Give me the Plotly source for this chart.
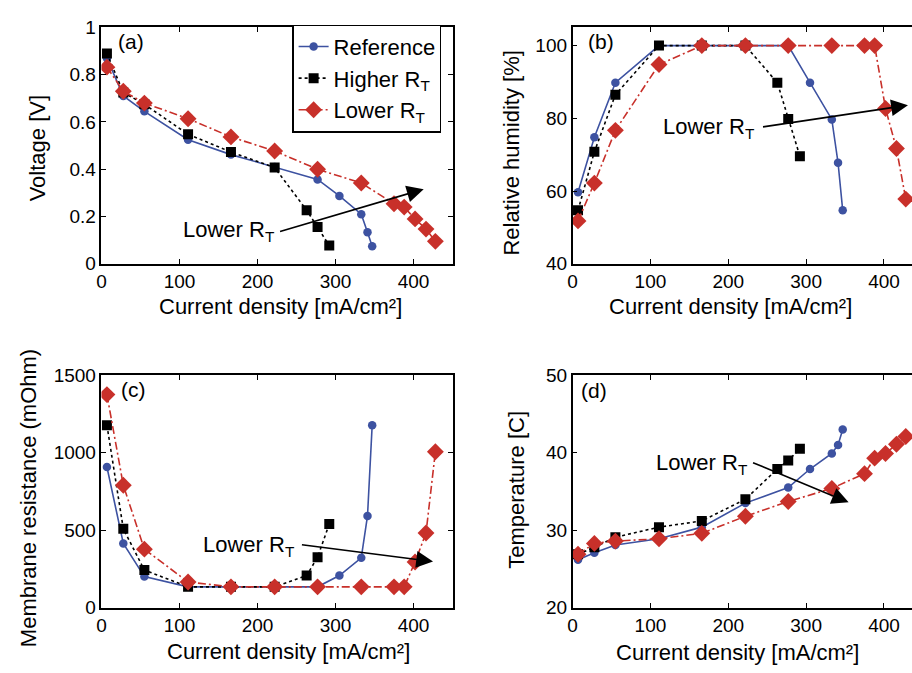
import plotly.graph_objects as go

# Current density [mA/cm²] of each operating point
j_ref = [7, 28, 55, 111, 166, 222, 277, 305, 333, 341, 347]
j_high = [7, 28, 55, 111, 166, 222, 263, 277, 292]
j_low = [7, 28, 55, 111, 166, 222, 277, 333, 375, 388, 402, 416, 428]

# (a) cell voltage [V]
v_ref = [0.87, 0.71, 0.645, 0.525, 0.462, 0.41, 0.357, 0.287, 0.21, 0.134, 0.074]
v_high = [0.89, 0.725, 0.675, 0.548, 0.473, 0.407, 0.227, 0.156, 0.077]
v_low = [0.832, 0.73, 0.68, 0.614, 0.537, 0.477, 0.40, 0.342, 0.254, 0.24, 0.19, 0.147, 0.095]

# (b) relative humidity [%]
rh_ref = [59.7, 74.8, 89.8, 100, 100, 100, 100, 89.8, 79.7, 67.8, 54.7]
rh_high = [54.7, 70.8, 86.5, 100, 100, 100, 89.8, 79.8, 69.6]
rh_low = [51.8, 62.2, 76.7, 94.8, 100, 100, 100, 100, 100, 100, 82.7, 71.7, 57.8]

# (c) membrane resistance [mOhm]
r_ref = [908, 415, 201, 135, 135, 135, 135, 208, 322, 592, 1178]
r_high = [1178, 509, 243, 135, 135, 135, 208, 326, 540]
r_low = [1375, 790, 378, 166, 135, 135, 135, 135, 135, 135, 295, 482, 1006]

# (d) temperature [C]
t_ref = [26.2, 27.1, 28.1, 28.9, 30.4, 33.5, 35.5, 37.9, 39.9, 41.0, 43.0]
t_high = [26.9, 27.8, 29.1, 30.4, 31.2, 34.0, 37.9, 39.0, 40.5]
t_low = [26.9, 28.3, 28.6, 28.9, 29.6, 31.8, 33.7, 35.4, 37.3, 39.3, 39.9, 41.1, 42.1]

series_names = ["Reference", "Higher R<sub>T</sub>", "Lower R<sub>T</sub>"]
x_ticks = [0, 100, 200, 300, 400]

BLUE = "#3d52a1"
BLACK = "#000000"
RED = "#c8302a"
FONT = "Liberation Sans, Arial, sans-serif"

styles = [
    dict(line=dict(color=BLUE, width=1.6, dash="solid"),
         marker=dict(symbol="circle", size=8.5, color=BLUE)),
    dict(line=dict(color=BLACK, width=1.6, dash="3px,3px"),
         marker=dict(symbol="square", size=10, color=BLACK)),
    dict(line=dict(color=RED, width=1.6, dash="8px,3px,2px,3px"),
         marker=dict(symbol="diamond", size=13, color=RED)),
]

panels = [
    ("x", "y", [v_ref, v_high, v_low]),
    ("x2", "y2", [rh_ref, rh_high, rh_low]),
    ("x3", "y3", [r_ref, r_high, r_low]),
    ("x4", "y4", [t_ref, t_high, t_low]),
]
currents = [j_ref, j_high, j_low]

fig = go.Figure()
for p, (xa, ya, ys) in enumerate(panels):
    for k in range(3):
        fig.add_trace(go.Scatter(
            x=currents[k], y=ys[k], xaxis=xa, yaxis=ya,
            mode="lines+markers", name=series_names[k],
            showlegend=(p == 0), legendgroup=series_names[k],
            **styles[k]))

W, H = 912, 673


def px(v):
    return v / W


def py(v):
    return 1 - v / H


axis_common = dict(
    showline=True, linecolor="black", linewidth=1.5,
    ticks="inside", ticklen=5, tickwidth=1.2, tickcolor="black",
    mirror="ticks", showgrid=False, zeroline=False,
    tickfont=dict(size=19, color="black", family=FONT),
)

xdom_left = [px(97), px(450)]
xdom_right = [px(570.7), 1.0]
ydom_top = [py(262), py(18)]
ydom_bot = [py(617), py(377)]

fig.update_layout(
    width=W, height=H,
    margin=dict(l=0, r=0, t=0, b=0),
    paper_bgcolor="white", plot_bgcolor="white",
    font=dict(family=FONT, color="black"),
    xaxis=dict(domain=xdom_left, anchor="y", range=[0, 450], tickvals=x_ticks, **axis_common),
    yaxis=dict(domain=ydom_top, anchor="x", range=[0, 1], dtick=0.2, **axis_common),
    xaxis2=dict(domain=xdom_right, anchor="y2", range=[0, 436], tickvals=x_ticks, **axis_common),
    yaxis2=dict(domain=ydom_top, anchor="x2", range=[40, 105], tickvals=[40, 60, 80, 100],
                **{**axis_common, "mirror": False}),
    xaxis3=dict(domain=xdom_left, anchor="y3", range=[0, 450], tickvals=x_ticks, **axis_common),
    yaxis3=dict(domain=ydom_bot, anchor="x3", range=[0, 1500], tickvals=[0, 500, 1000, 1500],
                **axis_common),
    xaxis4=dict(domain=xdom_right, anchor="y4", range=[0, 436], tickvals=x_ticks, **axis_common),
    yaxis4=dict(domain=ydom_bot, anchor="x4", range=[20, 50], tickvals=[20, 30, 40, 50],
                **{**axis_common, "mirror": False}),
    legend=dict(x=px(289), y=py(15), xanchor="left", yanchor="top",
                bordercolor="black", borderwidth=1.2, bgcolor="white",
                font=dict(size=22, family=FONT, color="black"),
                tracegroupgap=0),
)

ann = []

# Axis titles
title_font = dict(size=22, family=FONT, color="black")
xlabel = "Current density [mA/cm²]"
for cx, cy in [(277, 306), (729, 306), (285, 662), (737, 663)]:
    ann.append(dict(text=xlabel, x=px(cx), y=py(cy), xref="paper", yref="paper",
                    xanchor="center", yanchor="middle", showarrow=False, font=title_font))
for text, cx, cy in [("Voltage [V]", 33, 143), ("Relative humidity [%]", 509, 148),
                     ("Membrane resistance (mOhm)", 23, 504), ("Temperature [C]", 514, 495)]:
    ann.append(dict(text=text, x=px(cx), y=py(cy), xref="paper", yref="paper",
                    xanchor="center", yanchor="middle", textangle=-90,
                    showarrow=False, font=title_font))

# Panel letters
for text, lx, ly in [("(a)", 112, 33), ("(b)", 584, 33), ("(c)", 115, 392), ("(d)", 577, 393)]:
    ann.append(dict(text=text, x=px(lx), y=py(ly), xref="paper", yref="paper",
                    xanchor="left", yanchor="middle", showarrow=False,
                    font=dict(size=21, family=FONT, color="black")))

# "Lower R_T" trend arrows: (tail, head, label anchor) in data units
arrows = [
    ("x", "y", (227, 0.135), (413, 0.316), (225, 0.139)),
    ("x2", "y2", (242.7, 77.6), (430.8, 83.6), (236.3, 77.3)),
    ("x3", "y3", (255, 408), (425, 298), (250.3, 400)),
    ("x4", "y4", (229.9, 38.8), (354.6, 33.6), (227.3, 38.5)),
]
for xa, ya, tail, head, lab in arrows:
    ann.append(dict(text="", x=head[0], y=head[1], ax=tail[0], ay=tail[1],
                    xref=xa, yref=ya, axref=xa, ayref=ya, showarrow=True,
                    arrowhead=2, arrowsize=2.1, arrowwidth=1.6, arrowcolor="black"))
    ann.append(dict(text="Lower R<sub>T</sub>", x=lab[0], y=lab[1], xref=xa, yref=ya,
                    xanchor="right", yanchor="middle", showarrow=False,
                    font=dict(size=22, family=FONT, color="black")))

fig.update_layout(annotations=ann)

fig.write_html("out.html")
